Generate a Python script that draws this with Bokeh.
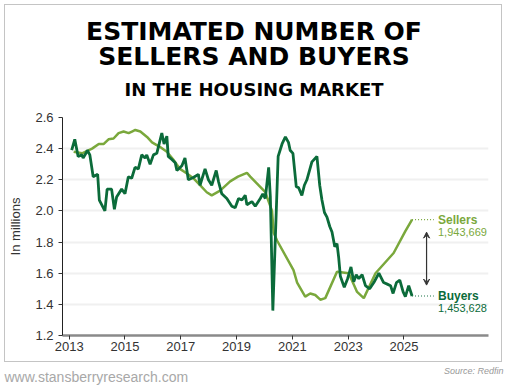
from bokeh.plotting import figure
from bokeh.layouts import column
from bokeh.models import Range1d, FixedTicker, Label, Arrow, VeeHead, NumeralTickFormatter
from bokeh.core.properties import value
from bokeh.embed import file_html
from bokeh.resources import INLINE

# ---------------- data (millions) ----------------
sellers_year = [2013.16, 2013.46, 2013.82, 2014.06, 2014.24, 2014.41, 2014.59, 2014.77, 2014.95,
                2015.13, 2015.25, 2015.37, 2015.55, 2015.79, 2015.97, 2016.26, 2016.50, 2016.73,
                2016.97, 2017.22, 2017.45, 2017.69, 2017.93, 2018.11, 2018.41, 2018.77, 2019.05,
                2019.37, 2019.49, 2020.03, 2020.27, 2020.33, 2020.45, 2021.04, 2021.17, 2021.46,
                2021.64, 2021.82, 2022.00, 2022.18, 2022.60, 2023.02, 2023.32, 2023.56, 2023.98,
                2024.63, 2025.05, 2025.29]
sellers_val = [2.38, 2.37, 2.40, 2.43, 2.43, 2.46, 2.465, 2.50, 2.51,
               2.50, 2.51, 2.52, 2.51, 2.475, 2.44, 2.41, 2.38, 2.33,
               2.27, 2.24, 2.21, 2.165, 2.12, 2.10, 2.13, 2.19, 2.22,
               2.245, 2.22, 2.12, 2.00, 1.86, 1.81, 1.62, 1.54, 1.45,
               1.47, 1.46, 1.43, 1.44, 1.61, 1.60, 1.48, 1.44, 1.60,
               1.73, 1.87, 1.943669]

buyers_year = [2013.09, 2013.20, 2013.32, 2013.45, 2013.50, 2013.60, 2013.65, 2013.74, 2013.86,
               2014.02, 2014.08, 2014.28, 2014.36, 2014.52, 2014.62, 2014.70, 2014.88, 2015.00,
               2015.12, 2015.24, 2015.36, 2015.48, 2015.60, 2015.72, 2015.78, 2015.90, 2016.02,
               2016.14, 2016.32, 2016.40, 2016.50, 2016.55, 2016.68, 2016.80, 2016.86, 2017.04,
               2017.15, 2017.27, 2017.45, 2017.63, 2017.69, 2017.87, 2017.99, 2018.11, 2018.27,
               2018.35, 2018.47, 2018.65, 2018.83, 2018.95, 2019.07, 2019.19, 2019.31, 2019.37,
               2019.55, 2019.67, 2019.85, 2019.94, 2020.03, 2020.15, 2020.21, 2020.30, 2020.49,
               2020.63, 2020.75, 2020.86, 2020.92, 2021.02, 2021.14, 2021.22, 2021.34, 2021.43,
               2021.52, 2021.70, 2021.88, 2021.98, 2022.06, 2022.15, 2022.24, 2022.34, 2022.42,
               2022.52, 2022.60, 2022.66, 2022.72, 2022.86, 2022.98, 2023.10, 2023.20, 2023.29,
               2023.38, 2023.50, 2023.62, 2023.77, 2023.92, 2024.10, 2024.27, 2024.40, 2024.52,
               2024.61, 2024.73, 2024.85, 2024.97, 2025.05, 2025.17, 2025.29]
buyers_val = [2.39, 2.46, 2.35, 2.36, 2.34, 2.37, 2.39, 2.36, 2.22,
              2.235, 2.07, 2.00, 2.14, 2.14, 2.01, 2.09, 2.14, 2.11,
              2.22, 2.21, 2.28, 2.27, 2.36, 2.34, 2.36, 2.30, 2.36,
              2.37, 2.50, 2.43, 2.48, 2.35, 2.33, 2.31, 2.26, 2.29,
              2.34, 2.20, 2.215, 2.235, 2.165, 2.27, 2.20, 2.165, 2.26,
              2.19, 2.11, 2.08, 2.03, 2.02, 2.08, 2.07, 2.10, 2.04,
              2.06, 2.03, 2.08, 2.11, 2.08, 2.28, 2.09, 1.36, 2.35,
              2.43, 2.475, 2.44, 2.39, 2.37, 2.155, 2.15, 2.10, 2.165,
              2.20, 2.315, 2.35, 2.165, 2.07, 1.99, 1.96, 1.90, 1.865,
              1.77, 1.79, 1.70, 1.58, 1.51, 1.565, 1.64, 1.545, 1.59,
              1.565, 1.59, 1.52, 1.50, 1.54, 1.60, 1.54, 1.53, 1.52,
              1.47, 1.54, 1.555, 1.48, 1.45, 1.52, 1.453628]

x_ticks = [2013, 2015, 2017, 2019, 2021, 2023, 2025]
y_ticks = [1.2, 1.4, 1.6, 1.8, 2.0, 2.2, 2.4, 2.6]
sellers_label = "Sellers"
buyers_label = "Buyers"
sellers_text = "1,943,669"
buyers_text = "1,453,628"
title_lines = ["ESTIMATED NUMBER OF", "SELLERS AND BUYERS", "IN THE HOUSING MARKET"]
title_sizes = ["25px", "25px", "18px"]
footer_left = "www.stansberryresearch.com"
footer_right = "Source: Redfin"

LIGHT = "#7aa83c"
DARK = "#0b6b3a"
FONT = "Liberation Sans"
INNER_W = 496

# ---------------- title block ----------------
# frames of plots in one column are aligned, so the head frame spans the same
# horizontal extent as the chart frame: give it page-pixel coordinates
head = figure(width=INNER_W, height=95, x_range=Range1d(62.5, 488.5), y_range=Range1d(95, 0),
              output_backend="svg", toolbar_location=None, x_axis_type=None, y_axis_type=None,
              min_border=0)
head.outline_line_color = None
head.xgrid.visible = False
head.ygrid.visible = False
title_y = [25.5, 50.5, 83.5]
for t, ty, fs in zip(title_lines, title_y, title_sizes):
    head.text(x=[254], y=[ty], text=[t], text_font=value("DejaVu Sans"), text_font_style="bold",
              text_font_size=fs, text_color="black", text_align="center", text_baseline="middle")

# ---------------- main chart ----------------
p = figure(width=INNER_W, height=261, x_range=Range1d(2012.76, 2028.03), y_range=Range1d(1.2, 2.6),
           output_backend="svg", toolbar_location=None,
           min_border_left=57, min_border_right=13, min_border_top=17, min_border_bottom=26)
p.outline_line_color = None

p.xaxis.ticker = FixedTicker(ticks=x_ticks)
p.yaxis.ticker = FixedTicker(ticks=y_ticks)
p.yaxis.formatter = NumeralTickFormatter(format="0.0")
for ax in (p.xaxis, p.yaxis):
    ax.major_label_text_font = FONT
    ax.major_label_text_font_size = "13px"
    ax.major_label_text_color = "#333333"
    ax.minor_tick_line_color = None
    ax.major_tick_in = 0
    ax.major_tick_out = 4
    ax.major_tick_line_color = "#333333"
p.xaxis.axis_line_color = "#8a8a8a"
p.xaxis.axis_line_width = 2.5
p.xaxis.major_label_standoff = 2
p.yaxis.axis_line_color = "#222222"
p.yaxis.major_label_standoff = 5
p.yaxis.axis_label = "In millions"
p.yaxis.axis_label_text_font = FONT
p.yaxis.axis_label_text_font_style = "normal"
p.yaxis.axis_label_text_font_size = "13px"
p.yaxis.axis_label_text_color = "#333333"
p.yaxis.axis_label_standoff = 9
p.xgrid.grid_line_color = None
p.ygrid.grid_line_color = "#f0f0f0"
p.ygrid.grid_line_width = 2

p.line(sellers_year, sellers_val, line_color=LIGHT, line_width=2.5)
p.line(buyers_year, buyers_val, line_color=DARK, line_width=2.8)

end_x = sellers_year[-1]
p.segment(x0=[end_x, buyers_year[-1]], y0=[sellers_val[-1], buyers_val[-1]],
          x1=[end_x + 0.78, buyers_year[-1] + 0.78], y1=[sellers_val[-1], buyers_val[-1]],
          line_color=[LIGHT, DARK], line_width=1.2, line_dash="1 2")
for name, num, yv, col in ((sellers_label, sellers_text, sellers_val[-1], LIGHT),
                           (buyers_label, buyers_text, buyers_val[-1], DARK)):
    p.add_layout(Label(x=end_x + 0.93, y=yv, text=name, text_font=FONT, text_font_style="bold",
                       text_font_size="12px", text_color=col, text_baseline="middle"))
    p.add_layout(Label(x=end_x + 0.93, y=yv, y_offset=-12, text=num, text_font=FONT,
                       text_font_size="11px", text_color=col, text_baseline="middle"))

p.add_layout(Arrow(x_start=end_x + 0.52, y_start=buyers_val[-1] + 0.07,
                   x_end=end_x + 0.52, y_end=sellers_val[-1] - 0.08,
                   line_color="#333333", line_width=1.2,
                   start=VeeHead(size=6, line_color="#333333", fill_color="#333333", line_width=1),
                   end=VeeHead(size=6, line_color="#333333", fill_color="#333333", line_width=1)))

boxed = column(head, p, margin=(4, 0, 0, 4), spacing=0,
               styles={"border": "1.5px solid #c4c4c4"})

# ---------------- footer ----------------
foot = figure(width=510, height=23, x_range=Range1d(0, 510), y_range=Range1d(23, 0),
              output_backend="svg", toolbar_location=None, x_axis_type=None, y_axis_type=None,
              min_border=0)
foot.outline_line_color = None
foot.xgrid.visible = False
foot.ygrid.visible = False
foot.text(x=[4], y=[14], text=[footer_left], text_font=value(FONT), text_font_size="14px",
          text_color="#a8a8a8", text_baseline="alphabetic", text_align="left")
foot.text(x=[503], y=[8], text=[footer_right], text_font=value(FONT), text_font_style="italic",
          text_font_size="9px", text_color="#999999", text_baseline="middle", text_align="right")

layout = column(boxed, foot, spacing=0)
open("out.html", "w").write(file_html(layout, INLINE))
